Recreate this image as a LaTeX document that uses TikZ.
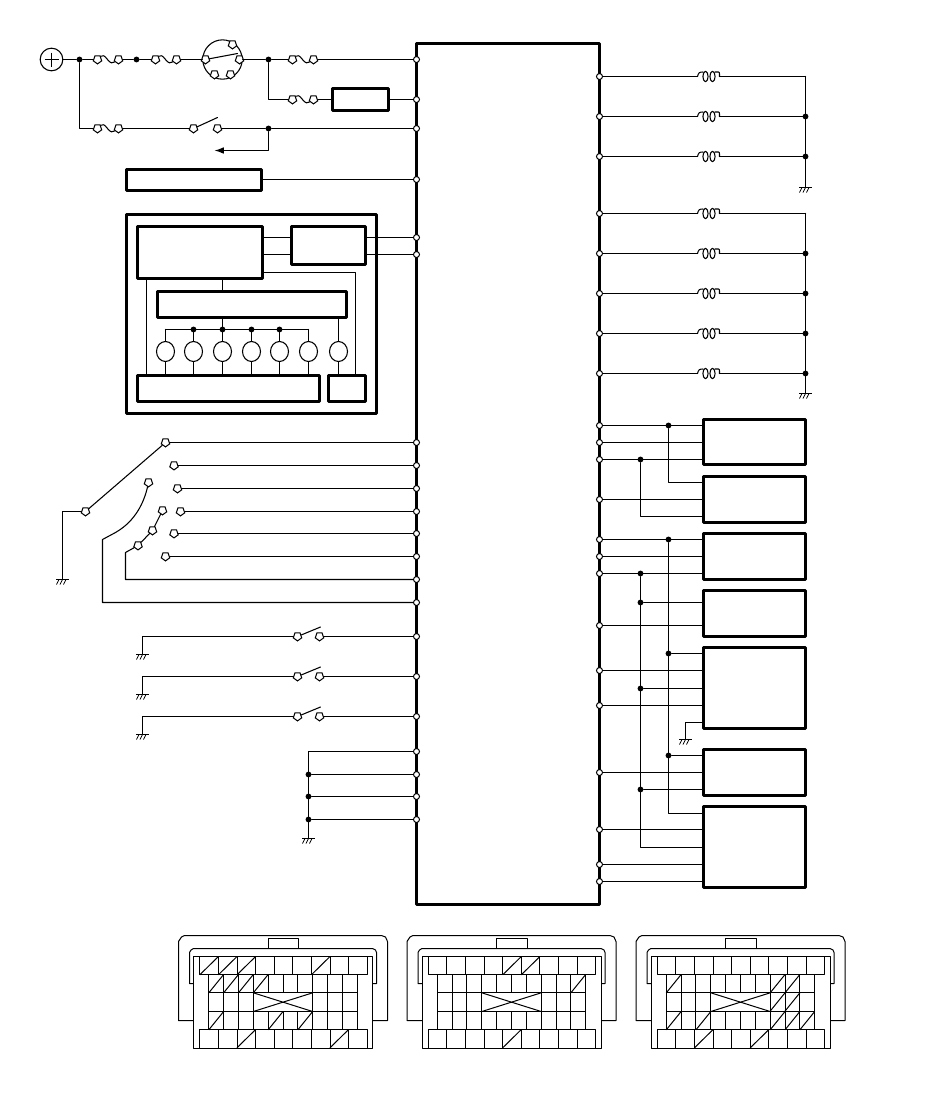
\documentclass[tikz,border=0pt]{standalone}
\usetikzlibrary{fit,shapes.geometric,arrows.meta}
\tikzset{
  wire/.style={line width=0.8pt,line cap=round,line join=round},
  blk/.style={draw,line width=2.25pt,rectangle,inner sep=0pt,line join=round},
  pin/.style={circle,draw,fill=white,line width=0.75pt,inner sep=0pt,minimum size=4.5pt},
  junc/.style={circle,fill=black,inner sep=0pt,minimum size=4.4pt},
  term/.style={regular polygon,regular polygon sides=5,shape border rotate=180,draw,fill=white,line width=0.75pt,inner sep=0pt,minimum size=6.6pt},
  lamp/.style={ellipse,draw,line width=0.8pt,inner sep=0pt,minimum width=13.5pt,minimum height=15pt},
  conn/.style={line width=0.75pt,line join=round}
}
\newcommand{\boxn}[5]{\node[blk,fit={(#2-.5,#3-.5)(#4-.5,#5-.5)}] (#1) {};}
\newcommand{\gnd}[2]{%
  \draw[line width=0.6pt] (#1-6.5,#2) -- (#1+6.5,#2);
  \draw[line width=0.6pt] (#1-3.5,#2) -- (#1-6,#2+5) (#1,#2) -- (#1-2.5,#2+5) (#1+3.5,#2) -- (#1+1,#2+5);}
\newcommand{\fuse}[4]{%
  \node[term] (#1a) at (#2+4,#4) {};
  \node[term] (#1b) at (#3-4,#4) {};
  \draw[wire] (#1a) .. controls (#2+9,#4-5) and (#2+11,#4-4) .. (#2+14,#4)
     .. controls (#2+17,#4+4) and (#2+19,#4+4) .. (#1b);}
\newcommand{\inductor}[1]{%
  \coordinate (Ia#1) at (697,#1);
  \coordinate (Ib#1) at (719,#1);
  \draw[wire] (Ia#1) .. controls (698,#1-4) and (699,#1-4.5) .. (702.5,#1-4.5);
  \draw[wire] (705,#1) ellipse [x radius=2.6,y radius=5.2];
  \draw[wire] (712,#1) ellipse [x radius=2.6,y radius=5.2];
  \draw[wire] (714.5,#1-4.5) -- (718,#1-4.5) .. controls (719,#1-4.5) .. (Ib#1);}
\newcommand{\connector}[3]{%
\begin{scope}[shift={(#1,0)},conn]
  \draw (193,1020) -- (178,1020) -- (178,941) -- (181,936.5) -- (184,935) -- (381,935) -- (385,936.5) -- (387,941) -- (387,1020) -- (372,1020);
  \draw (193,983) -- (189,983) -- (189,952) -- (190.5,949.5) -- (193,948) -- (372,948) -- (375,949.5) -- (376,952) -- (376,983) -- (372,983);
  \draw (267.5,948) -- (267.5,938) -- (298,938) -- (298,948);
  \draw (193,956) rectangle (372,1048);
  \draw (199.3,956) rectangle (366.7,974);
  \draw (199.3,1029) rectangle (366.7,1048);
  \foreach \k in {1,...,8} {
    \draw ({199.3+\k*18.6},956) -- ({199.3+\k*18.6},974);
    \draw ({199.3+\k*18.6},1029) -- ({199.3+\k*18.6},1048);}
  \draw (208.3,974) -- (208.3,1029) (356.7,974) -- (356.7,1029);
  \draw (208.3,992.3) -- (356.7,992.3) (208.3,1011) -- (356.7,1011);
  \foreach \k in {1,2,3,7,8,9} {\draw ({208.3+\k*14.84},974) -- ({208.3+\k*14.84},1029);}
  \foreach \k in {4,5,6} {
    \draw ({208.3+\k*14.84},974) -- ({208.3+\k*14.84},992.3);
    \draw ({208.3+\k*14.84},1011) -- ({208.3+\k*14.84},1029);}
  \draw (252.8,992.3) -- (312.2,1011) (252.8,1011) -- (312.2,992.3);
  \foreach \yy/\k in #2 {\draw ({199.3+\k*18.6},{\yy+18.3}) -- ({199.3+\k*18.6+18.6},\yy);}
  \foreach \yy/\k in #3 {\draw ({208.3+\k*14.84},{\yy+18.3}) -- ({208.3+\k*14.84+14.84},\yy);}
\end{scope}}
\begin{document}
\begin{tikzpicture}[x=0.75pt,y=-0.75pt]
\useasboundingbox (0,0) rectangle (950,1108);
\begin{scope}[shift={(0.5,0.5)}]
% main controller
\boxn{main}{416.3}{43}{599.3}{904.5}
\foreach \y in {59,99,128,179,237,254,442,465,488,511,533,556,579,602,636,676,716,751,774,796,819}
  {\node[pin] (L\y) at (416,\y) {};}
\foreach \y in {76,116,156,213,253,293,333,373,425,442,459,499,539,556,573,625,670,705,772,829,864,881}
  {\node[pin] (R\y) at (599,\y) {};}
% supply
\node[circle,draw,line width=0.8pt,inner sep=0pt,minimum size=17pt] (plus) at (51,59) {};
\draw[line width=0.7pt] (44,59) -- (58,59) (51,52) -- (51,66);
\node[junc] (j79) at (79,59) {};
\fuse{f1}{93}{122}{59}
\node[junc] (j136) at (136,59) {};
\fuse{f2}{151}{180}{59}
\node[circle,draw,line width=0.8pt,inner sep=0pt,minimum size=29.5pt] (ign) at (222,59) {};
\node[term] (ig1) at (205,59) {};
\node[term] (ig2) at (239,59) {};
\node[term] (ig3) at (232,44) {};
\node[term] (ig4) at (214,74) {};
\node[term] (ig5) at (230,74) {};
\coordinate (igarm) at (237,53);
\draw[wire] (ig1) -- (igarm);
\node[junc] (j268) at (268,59) {};
\fuse{f3}{288}{317}{59}
\coordinate (c99) at (268,99);
\fuse{f4}{288}{317}{99}
\boxn{relay}{332}{88}{388.7}{110}
\coordinate (c128) at (79,128);
\fuse{f5}{93}{122}{128}
\node[term] (sw1) at (193,128) {};
\node[term] (sw2) at (217,128) {};
\coordinate (swarm) at (217,117);
\node[junc] (j268b) at (268,128) {};
\coordinate (c150) at (268,150);
\coordinate (arrowend) at (214,150);
\boxn{longbox}{126}{169.3}{261.3}{190.3}
\draw[wire] (plus) -- (j79) -- (f1a) (f1b) -- (j136) -- (f2a) (f2b) -- (ign.west) (ign.east) -- (j268) -- (f3a) (f3b) -- (L59);
\draw[wire] (j268) -- (c99) -- (f4a) (f4b) -- (relay.west |- f4b) (relay.east |- L99) -- (L99);
\draw[wire] (j79) -- (c128) -- (f5a) (f5b) -- (sw1) (sw2) -- (j268b) -- (L128);
\draw[wire] (sw1) -- (swarm);
\draw[wire,-{Latex[length=7pt,width=5pt]}] (j268b) -- (c150) -- (arrowend);
\draw[wire] (longbox.east |- L179) -- (L179);
% module
\boxn{mO}{126.3}{214}{376.3}{413.7}
\boxn{mA}{137}{226}{262.3}{278}
\boxn{mB}{291}{226}{365.7}{264.3}
\boxn{mC}{157}{291}{346}{317.3}
\boxn{mD}{137}{375}{319}{401.7}
\boxn{mE}{328}{375}{365.7}{401.7}
\draw[wire] (mA.east |- L237) -- (mB.west |- L237) (mB.east |- L237) -- (L237);
\draw[wire] (mA.east |- L254) -- (mB.west |- L254) (mB.east |- L254) -- (L254);
\foreach \i/\x in {1/165,2/193,3/222,4/251,5/279,6/308,7/338} {
  \node[lamp] (c\i) at (\x,351) {};
  \coordinate (b\i) at (\x,329);
}
\coordinate (m146) at (146,300);
\coordinate (m355) at (355,272);
\draw[wire] (m146 |- mA.south) -- (m146 |- mD.north);
\draw[wire] (mA.east |- m355) -- (m355) -- (m355 |- mE.north);
\draw[wire] (b3 |- mA.south) -- (b3 |- mC.north);
\draw[wire] (b3 |- mC.south) -- (b3);
\draw[wire] (b1) -- (b6);
\foreach \i in {2,3,4,5} {\node[junc] (bj\i) at (b\i) {};}
\foreach \i in {1,...,6} {
  \draw[wire] (b\i) -- (c\i);
  \draw[wire] (c\i) -- (c\i |- mD.north);
}
\draw[wire] (c7 |- mC.south) -- (c7);
\draw[wire] (c7) -- (c7 |- mE.north);
% selector
\node[term] (s0) at (85,511) {};
\coordinate (s0c) at (62,511);
\coordinate (s0g) at (62,579);
\draw[wire] (s0) -- (s0c) -- (s0g);
\gnd{62}{579}
\node[term] (s1) at (165,442) {};
\node[term] (s2) at (173.5,465) {};
\node[term] (s3) at (177,488) {};
\node[term] (s4) at (180,511) {};
\node[term] (s5) at (173.5,533) {};
\node[term] (s6) at (165,556) {};
\draw[wire] (s0) -- (s1);
\draw[wire] (s1) -- (L442) (s2) -- (L465) (s3) -- (L488) (s4) -- (L511) (s5) -- (L533) (s6) -- (L556);
\node[term] (s7) at (148,482) {};
\coordinate (s7a) at (102,539);
\coordinate (s7b) at (102,602);
\draw[wire] (s7) .. controls (144,500) and (136,520) .. (115,532) -- (s7a) -- (s7b) -- (L602);
\node[term] (s8) at (162,510) {};
\node[term] (s9) at (152,530) {};
\node[term] (s10) at (137.5,545) {};
\coordinate (s10a) at (125,552);
\coordinate (s10b) at (125,579);
\draw[wire] (s8) -- (s9) (s9) -- (s10) (s10) -- (s10a) -- (s10b) -- (L579);
% switches
\foreach \y in {636,676,716} {
  \node[term] (a\y) at (297,\y) {};
  \node[term] (e\y) at (319,\y) {};
  \coordinate (arm\y) at (320,{\y-9.5});
  \coordinate (g\y) at (142,\y);
  \coordinate (h\y) at (142,{\y+18});
  \draw[wire] (a\y) -- (arm\y);
  \draw[wire] (h\y) -- (g\y) -- (a\y) (e\y) -- (L\y);
  \gnd{142}{\y+18}
}
% ground bus left
\coordinate (g751) at (308,751);
\coordinate (g838) at (308,838);
\draw[wire] (L751) -- (g751) -- (g838);
\gnd{308}{838}
\foreach \y in {774,796,819} {
  \node[junc] (gj\y) at (308,\y) {};
  \draw[wire] (gj\y) -- (L\y);
}
% inductors
\foreach \y in {76,116,156,213,253,293,333,373} {
  \inductor{\y}
  \coordinate (Bus\y) at (805,\y);
  \draw[wire] (R\y) -- (Ia\y) (Ib\y) -- (Bus\y);
}
\coordinate (Gu) at (805,187);
\coordinate (Gl) at (805,393);
\draw[wire] (Bus76) -- (Gu);
\draw[wire] (Bus213) -- (Gl);
\gnd{805}{187}
\gnd{805}{393}
\foreach \y in {116,156,253,293,333,373} {\node[junc] (bj\y) at (Bus\y) {};}
% right boxes
\boxn{bx1}{703}{419.7}{805}{464.7}
\boxn{bx2}{703}{476.7}{805}{522.3}
\boxn{bx3}{703}{533.7}{805}{579}
\boxn{bx4}{703}{590.7}{805}{636.3}
\boxn{bx5}{703}{647.3}{805}{728.3}
\boxn{bx6}{703}{749.7}{805}{795}
\boxn{bx7}{703}{806.3}{805}{887.3}
\draw[wire] (R425) -- (bx1.west |- R425) (R442) -- (bx1.west |- R442) (R459) -- (bx1.west |- R459);
\draw[wire] (R499) -- (bx2.west |- R499);
\draw[wire] (R539) -- (bx3.west |- R539) (R556) -- (bx3.west |- R556) (R573) -- (bx3.west |- R573);
\draw[wire] (R625) -- (bx4.west |- R625);
\draw[wire] (R670) -- (bx5.west |- R670) (R705) -- (bx5.west |- R705);
\draw[wire] (R772) -- (bx6.west |- R772);
\draw[wire] (R829) -- (bx7.west |- R829) (R864) -- (bx7.west |- R864) (R881) -- (bx7.west |- R881);
% x=668 and x=640 cross-links
\node[junc] (ja) at (668,425) {};
\coordinate (ja2) at (668,482);
\draw[wire] (ja) -- (ja2) -- (bx2.west |- ja2);
\node[junc] (jb) at (640,459) {};
\coordinate (jb2) at (640,516);
\draw[wire] (jb) -- (jb2) -- (bx2.west |- jb2);
\node[junc] (jc) at (668,539) {};
\coordinate (jc2) at (668,813);
\draw[wire] (jc) -- (jc2) -- (bx7.west |- jc2);
\node[junc] (jc3) at (668,653) {};
\node[junc] (jc4) at (668,755) {};
\draw[wire] (jc3) -- (bx5.west |- jc3) (jc4) -- (bx6.west |- jc4);
\node[junc] (jd) at (640,573) {};
\coordinate (jd2) at (640,847);
\draw[wire] (jd) -- (jd2) -- (bx7.west |- jd2);
\node[junc] (jd3) at (640,602) {};
\node[junc] (jd4) at (640,688) {};
\node[junc] (jd5) at (640,789) {};
\draw[wire] (jd3) -- (bx4.west |- jd3) (jd4) -- (bx5.west |- jd4) (jd5) -- (bx6.west |- jd5);
\coordinate (gb) at (685,722);
\coordinate (gb2) at (685,739);
\draw[wire] (bx5.west |- gb) -- (gb) -- (gb2);
\gnd{685}{739}
% connectors
\connector{0}{{956/0,956/1,956/2,956/6,1029/2,1029/7}}{{974/0,974/1,974/2,974/3,1011/0,1011/4,1011/6}}
\connector{228.5}{{956/4,956/5,1029/4}}{{974/9}}
\connector{457.5}{{1029/2,1029/5}}{{974/0,974/7,974/8,992.3/7,992.3/8,1011/0,1011/2,1011/7,1011/8,1011/9}}
\end{scope}
\end{tikzpicture}
\end{document}
